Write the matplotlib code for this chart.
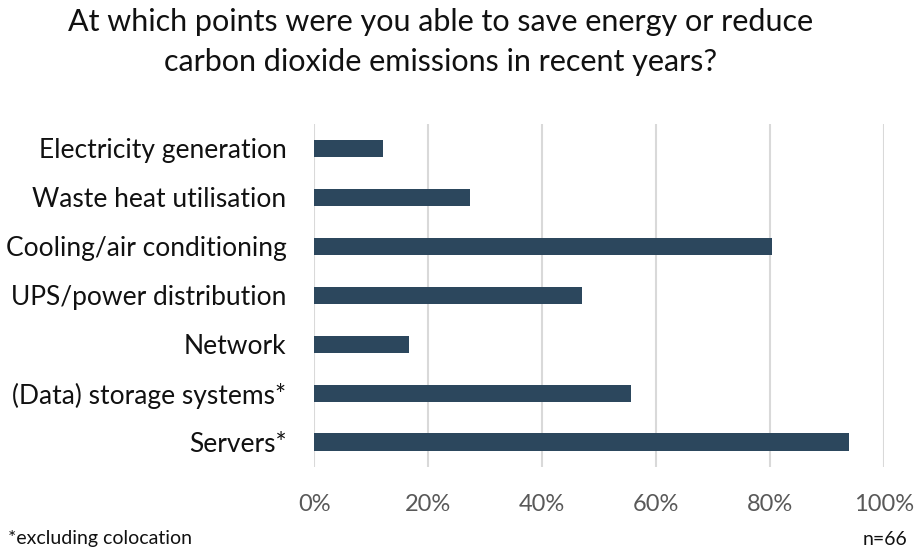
import matplotlib
matplotlib.use("Agg")
import matplotlib.pyplot as plt
from matplotlib.ticker import FixedLocator

categories = ["Electricity generation", "Waste heat utilisation", "Cooling/air conditioning",
              "UPS/power distribution", "Network", "(Data) storage systems*", "Servers*"]
values = [12.1, 27.3, 80.3, 47.0, 16.7, 55.5, 93.9]
xticks = [0, 20, 40, 60, 80, 100]
xtick_labels = ["0%", "20%", "40%", "60%", "80%", "100%"]
title = "At which points were you able to save energy or reduce\ncarbon dioxide emissions in recent years?"
footnote = "*excluding colocation"
sample = "n=66"

FONT = "Lato"
fig = plt.figure(figsize=(9.15, 5.48), dpi=100)
ax = fig.add_axes([0.3435, 0.1487, 0.9664 - 0.3435, 0.7737 - 0.1487])

ypos = list(range(len(categories)))
ax.barh(ypos, values, height=0.35, color="#2C475D", zorder=3)
ax.set_ylim(len(categories) - 0.5, -0.5)
ax.set_xlim(0, 100)
ax.set_yticks(ypos)
ax.set_yticklabels(categories, fontsize=19, family=FONT, color="#111111")
ax.xaxis.set_major_locator(FixedLocator(xticks))
ax.set_xticklabels(xtick_labels, fontsize=17, family=FONT, color="#595959")
ax.tick_params(axis="both", length=0)
ax.tick_params(axis="y", pad=20)
ax.tick_params(axis="x", pad=20)
ax.grid(axis="x", color="#D9D9D9", linewidth=1.5, zorder=0)
for s in ax.spines.values():
    s.set_visible(False)

fig.text(0.481, 0.985, title, ha="center", va="top", fontsize=22, family=FONT,
         color="#111111", linespacing=1.5)
fig.text(0.009, 0.002, footnote, ha="left", va="bottom", fontsize=14, family=FONT, color="#111111")
fig.text(0.992, 0.0, sample, ha="right", va="bottom", fontsize=14, family=FONT, color="#111111")

fig.savefig("out.png", dpi=100)
